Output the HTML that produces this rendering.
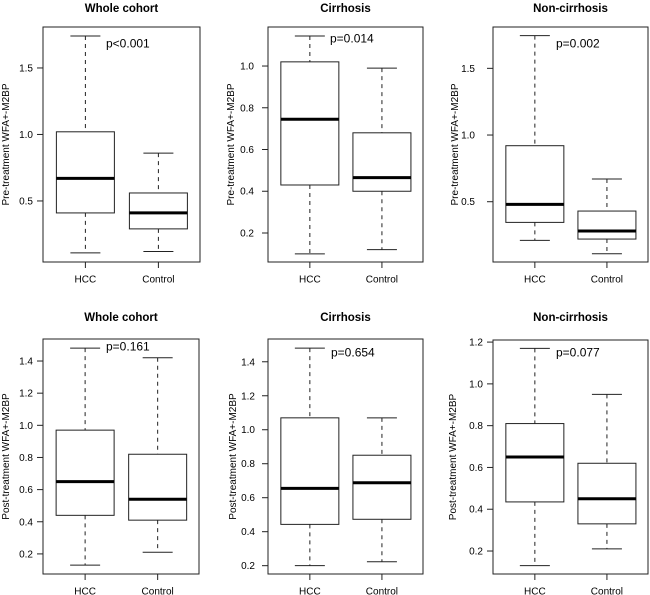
<!DOCTYPE html>
<html><head><meta charset="utf-8">
<style>
html,body{margin:0;padding:0;background:#fff;}
svg{display:block;font-family:"Liberation Sans",Arial,sans-serif;}
</style></head>
<body>
<svg id="chart" width="650" height="595" viewBox="0 0 650 595" xmlns="http://www.w3.org/2000/svg"></svg>
<script>
// ---- data ----
const panelTitles = ["Whole cohort","Cirrhosis","Non-cirrhosis","Whole cohort","Cirrhosis","Non-cirrhosis"];
const yAxisTitles = ["Pre-treatment WFA+-M2BP","Pre-treatment WFA+-M2BP","Pre-treatment WFA+-M2BP","Post-treatment WFA+-M2BP","Post-treatment WFA+-M2BP","Post-treatment WFA+-M2BP"];
const categories = ["HCC","Control"];
const pValues = ["p<0.001","p=0.014","p=0.002","p=0.161","p=0.654","p=0.077"];
// [lower whisker, Q1, median, Q3, upper whisker]
const hccStats = [
  [0.11,0.41,0.67,1.02,1.74],
  [0.10,0.43,0.745,1.02,1.144],
  [0.21,0.345,0.48,0.92,1.745],
  [0.13,0.44,0.65,0.97,1.48],
  [0.20,0.443,0.655,1.07,1.48],
  [0.13,0.435,0.65,0.81,1.17]
];
const controlStats = [
  [0.12,0.29,0.41,0.56,0.86],
  [0.12,0.40,0.465,0.68,0.99],
  [0.11,0.22,0.28,0.43,0.67],
  [0.21,0.41,0.54,0.82,1.42],
  [0.223,0.473,0.688,0.85,1.07],
  [0.21,0.33,0.45,0.62,0.95]
];
const yTickLabels = [
  ["0.5","1.0","1.5"],
  ["0.2","0.4","0.6","0.8","1.0"],
  ["0.5","1.0","1.5"],
  ["0.2","0.4","0.6","0.8","1.0","1.2","1.4"],
  ["0.2","0.4","0.6","0.8","1.0","1.2","1.4"],
  ["0.2","0.4","0.6","0.8","1.0","1.2"]
];
// ---- layout (pixel geometry) ----
const layout = [
  {L:43,R:200,T:27,B:262,d0:0.041,d1:1.808,lab:5,tick:33,p:[106,43],xl:279,title:8},
  {L:268,R:423,T:27,B:262,d0:0.061,d1:1.187,lab:230,tick:254,p:[330,38],xl:279,title:8},
  {L:493,R:648,T:27,B:262,d0:0.048,d1:1.81,lab:454,tick:475,p:[556,43],xl:279,title:8},
  {L:43,R:199,T:339,B:574,d0:0.075,d1:1.537,lab:5,tick:33,p:[106,346],xl:591,title:317},
  {L:268,R:423,T:339,B:574,d0:0.151,d1:1.534,lab:232,tick:255,p:[331,352],xl:591,title:317},
  {L:493,R:648,T:340,B:574,d0:0.09,d1:1.21,lab:452,tick:483,p:[556,352],xl:591,title:317}
];
const NS="http://www.w3.org/2000/svg";
const svg=document.getElementById('chart');
function mk(tag,attrs,parent,text){const e=document.createElementNS(NS,tag);for(const k in attrs)e.setAttribute(k,attrs[k]);if(text!==undefined)e.textContent=text;parent.appendChild(e);return e;}

layout.forEach((g,i)=>{
  const grp=mk('g',{},svg);
  
  
  const y=v=>g.B-(v-g.d0)/(g.d1-g.d0)*(g.B-g.T);
  const w=g.R-g.L;
  const x=k=>g.L+w*(k===0?0.27:0.735);
  const cx=(g.L+g.R)/2, cy=(g.T+g.B)/2;
  const t=mk('text',{x:cx,y:g.title+4,'text-anchor':'middle','font-size':'11.5','font-weight':'bold',fill:'#000'},grp,panelTitles[i]);
  
  
  const fr=mk('rect',{x:g.L,y:g.T,width:w,height:g.B-g.T,fill:'none',stroke:'#222','stroke-width':1},grp);
  
  
  const at=mk('text',{transform:`translate(${g.lab+4},${cy}) rotate(-90)`,'text-anchor':'middle','font-size':'10',fill:'#000'},grp,yAxisTitles[i]);
  
  
  yTickLabels[i].forEach(lbl=>{
    const v=parseFloat(lbl), yy=y(v);
    const tk=mk('line',{x1:g.L-6,x2:g.L,y1:yy,y2:yy,stroke:'#222'},grp);
    
    
    const tl=mk('text',{x:g.tick,y:yy+3.5,'text-anchor':'end','font-size':'10',fill:'#000'},grp,lbl);
    
    
  });
  [hccStats[i],controlStats[i]].forEach((s,k)=>{
    const xc=x(k);
    const bx=mk('g',{},grp);
    
    
    mk('line',{x1:xc,x2:xc,y1:y(s[4]),y2:y(s[3]),stroke:'#222','stroke-dasharray':'4,4'},bx);
    mk('line',{x1:xc,x2:xc,y1:y(s[1]),y2:y(s[0]),stroke:'#222','stroke-dasharray':'4,4'},bx);
    mk('line',{x1:xc-15,x2:xc+15,y1:y(s[4]),y2:y(s[4]),stroke:'#222'},bx);
    mk('line',{x1:xc-15,x2:xc+15,y1:y(s[0]),y2:y(s[0]),stroke:'#222'},bx);
    mk('rect',{x:xc-29,y:y(s[3]),width:58,height:y(s[1])-y(s[3]),fill:'#fff',stroke:'#222'},bx);
    mk('line',{x1:xc-29,x2:xc+29,y1:y(s[2]),y2:y(s[2]),stroke:'#000','stroke-width':3},bx);
    const xt=mk('line',{x1:xc,x2:xc,y1:g.B,y2:g.B+6,stroke:'#222'},grp);
    
    
    const xl=mk('text',{x:xc,y:g.xl+3.5,'text-anchor':'middle','font-size':'10',fill:'#000'},grp,categories[k]);
    
    
  });
  const pt=mk('text',{x:g.p[0],y:g.p[1]+4.5,'font-size':'12',fill:'#000'},grp,pValues[i]);
  
  
});
</script>
</body></html>
